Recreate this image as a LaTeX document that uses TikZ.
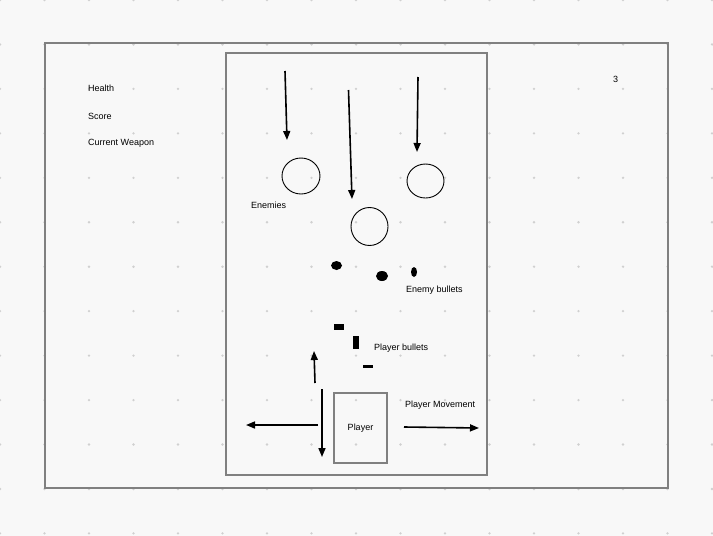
\documentclass[tikz,border=0pt]{standalone}
\usepackage{fontspec}
\setmainfont{Liberation Sans}
\usetikzlibrary{arrows.meta,shapes.geometric}
\definecolor{bg}{HTML}{F8F8F8}
\definecolor{frame}{HTML}{808080}
\definecolor{dotc}{HTML}{D0D0D0}
\tikzset{
  lbl/.style={font=\fontsize{9}{11}\selectfont, inner sep=0pt, anchor=west},
  box/.style={draw=frame, line width=1.5pt, inner sep=0pt},
  enemy/.style={draw=black, line width=0.9pt, ellipse, inner sep=0pt},
  ebullet/.style={fill=black, ellipse, inner sep=0pt},
  pbullet/.style={fill=black, rectangle, inner sep=0pt},
  mv/.style={draw=black, line width=1.6pt, -{Triangle[length=9pt,width=7pt]}},
}
\begin{document}
\begin{tikzpicture}[x=1pt,y=-1pt]
\fill[bg] (0,0) rectangle (713,536);
\useasboundingbox (0,0) rectangle (713,536);
% dot grid
\foreach \i in {0,...,16} {
  \foreach \j in {0,...,12} {
    \fill[dotc] ({\i*44.5},{\j*44.45}) circle (1.3);
  }
}
% frames
\node[box, minimum width=623pt, minimum height=445pt] (outer) at (356.5,265.5) {};
\node[box, minimum width=261pt, minimum height=422pt] (field) at (356.5,264) {};
\node[box, minimum width=53pt, minimum height=70pt, font=\fontsize{9}{11}\selectfont] (player) at (360.5,428) {Player};
% HUD
\node[lbl] (health) at (88,88) {Health};
\node[lbl] (score) at (88,116) {Score};
\node[lbl] (weapon) at (88,143) {Current Weapon};
\node[lbl] (num) at (613,79) {3};
% enemies
\node[enemy, minimum width=38pt, minimum height=36pt] (e1) at (301,176) {};
\node[enemy, minimum width=37pt, minimum height=34pt] (e2) at (425.5,181) {};
\node[enemy, minimum width=37pt, minimum height=38pt] (e3) at (369.5,226.5) {};
\node[lbl] (enemies) at (251,205) {Enemies};
% enemy arrows
\coordinate (a1s) at (285,71); \coordinate (a1e) at (287,140);
\coordinate (a2s) at (348.5,90); \coordinate (a2e) at (352,199);
\coordinate (a3s) at (418,77); \coordinate (a3e) at (417,152);
\draw[mv] (a1s) -- (a1e);
\draw[mv] (a2s) -- (a2e);
\draw[mv] (a3s) -- (a3e);
% enemy bullets
\node[ebullet, minimum width=11pt, minimum height=9pt] (b1) at (336.5,265.5) {};
\node[ebullet, minimum width=12pt, minimum height=10pt] (b2) at (382,276) {};
\node[ebullet, minimum width=6pt, minimum height=10pt] (b3) at (414,272) {};
\node[lbl] (ebl) at (406,290) {Enemy bullets};
% player bullets
\node[pbullet, minimum width=10pt, minimum height=6pt] (p1) at (339,327) {};
\node[pbullet, minimum width=6pt, minimum height=13pt] (p2) at (356,342.5) {};
\node[pbullet, minimum width=10pt, minimum height=3pt] (p3) at (368,366.5) {};
\node[lbl] (pbl) at (374,348) {Player bullets};
% player movement
\node[lbl] (pm) at (405,405) {Player Movement};
\coordinate (up1) at (315,383); \coordinate (up2) at (314,351);
\coordinate (dn1) at (322,389); \coordinate (dn2) at (322,457);
\coordinate (lf1) at (318,425); \coordinate (lf2) at (246,425);
\coordinate (rt1) at (404,427); \coordinate (rt2) at (479,428);
\draw[mv] (up1) -- (up2);
\draw[mv] (dn1) -- (dn2);
\draw[mv] (lf1) -- (lf2);
\draw[mv] (rt1) -- (rt2);
\end{tikzpicture}
\end{document}
